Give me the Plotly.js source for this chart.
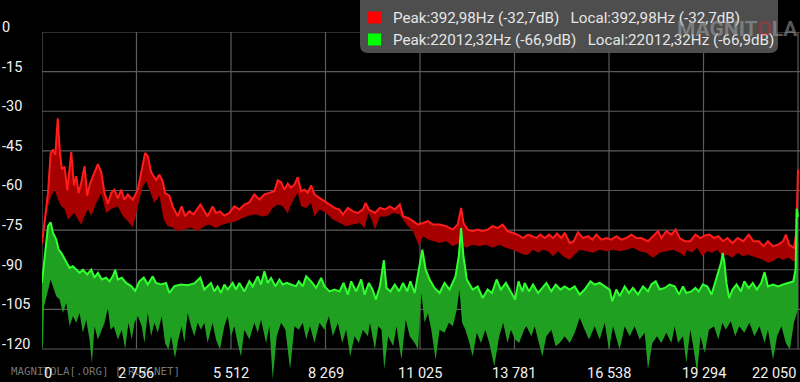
<!DOCTYPE html>
<html><head><meta charset="utf-8">
<script src="https://cdn.plot.ly/plotly-3.0.1.min.js"></script>
<style>html,body{margin:0;padding:0;background:#000;overflow:hidden}#chart{width:800px;height:382px}</style>
</head><body><div id="chart"></div>
<script>
// ---- data (Hz, dB) ----
const redTopHz = [0,175,252,320,388,460,524,582,660,737,854,931,999,1067,1145,1242,1319,1387,1484,1630,1727,1824,1921,2018,2115,2212,2309,2406,2503,2648,2794,2910,3007,3085,3182,3327,3424,3521,3589,3715,3812,3958,4074,4171,4297,4423,4617,4734,4830,4976,5074,5191,5317,5463,5609,5756,5902,6048,6194,6340,6486,6632,6778,6876,6973,7070,7168,7265,7363,7460,7557,7655,7752,7850,7947,8093,8239,8385,8531,8678,8775,8921,9067,9213,9359,9437,9535,9710,9855,10000,10145,10290,10435,10532,10677,10822,10967,11112,11257,11402,11596,11789,11982,12127,12224,12292,12417,12562,12707,12853,12998,13143,13288,13433,13578,13723,13916,14030,14176,14302,14419,14536,14662,14788,14905,15022,15148,15245,15391,15508,15634,15780,15926,16052,16169,16314,16460,16606,16752,16898,17043,17189,17335,17481,17675,17821,17967,18064,18210,18356,18482,18599,18744,18910,19058,19205,19333,19471,19599,19727,19865,19993,20140,20288,20455,20613,20750,20908,21045,21173,21321,21468,21616,21695,21793,21931,22000,22050];
const redTopDb = [-80,-61,-46,-44.5,-46.5,-32.7,-46,-52,-51,-60,-45.5,-58,-54.6,-61,-57,-50.8,-62,-58,-54.6,-50,-53,-61,-65,-61,-59.7,-63,-59.7,-63.5,-61.5,-63.5,-59.7,-52,-45.8,-47,-53,-56,-54,-56.5,-61,-62,-66,-69.7,-66,-69.7,-67.8,-69,-65.3,-67.8,-69.8,-66,-68.5,-67.9,-69.5,-68.5,-66,-67.2,-65.3,-64.5,-61.5,-63.4,-61.5,-60.9,-60.3,-56.1,-56.9,-59.7,-57.4,-59,-57.8,-55,-60.3,-59.7,-60.9,-58.1,-61.5,-62.8,-64.1,-65.3,-66.6,-67.2,-69.1,-66.6,-67.9,-68.5,-67.2,-64.7,-67.2,-68.5,-66.6,-67.2,-66,-67.2,-65.3,-69.8,-70.4,-71.6,-72.9,-72.3,-71.6,-72.9,-72.9,-73.5,-74.8,-72.9,-66.6,-72.3,-74.8,-75.4,-74.8,-75.4,-74.8,-73.5,-74.2,-72.9,-75.4,-76,-77,-78,-76.7,-77.3,-78,-76.7,-78,-76.7,-78,-76.3,-78,-76,-79.9,-79.2,-75.8,-78,-77.3,-78.6,-76.7,-78.6,-78,-78.6,-77.3,-78.6,-78,-76.7,-78,-78,-79.2,-77.3,-75.4,-78,-75.4,-76.7,-74.8,-78,-79.2,-79.2,-76.7,-78,-77,-76.7,-78,-77.3,-79.2,-78,-79.9,-78,-79.2,-76.7,-79.2,-79.2,-81.1,-79.2,-81.1,-80.5,-79.2,-76.7,-80.5,-81.7,-76,-52];
const redLowHz = [0,175,272,369,466,563,660,757,854,951,1048,1145,1242,1339,1436,1581,1727,1872,2018,2212,2357,2503,2648,2794,2939,3036,3133,3279,3424,3550,3667,3812,3958,4152,4346,4540,4734,4879,5074,5269,5463,5658,5853,6048,6243,6437,6583,6730,6876,7022,7168,7265,7363,7460,7557,7704,7850,7947,8093,8288,8483,8678,8872,9067,9262,9408,9517,9613,9710,9855,10048,10242,10435,10629,10822,10996,11112,11257,11402,11596,11789,11982,12176,12369,12562,12756,12949,13143,13336,13530,13723,13916,14061,14176,14322,14468,14613,14759,14905,15051,15197,15391,15537,15683,15877,16071,16266,16460,16655,16849,17043,17238,17432,17627,17821,18015,18210,18404,18599,18744,18812,18959,19107,19255,19402,19550,19697,19845,19993,20140,20288,20435,20583,20731,20878,21026,21173,21321,21468,21616,21764,21912,22010,22050];
const redLowDb = [-80,-66,-62,-59.7,-63.5,-66,-67,-71,-69.7,-68.5,-71,-73,-69.7,-67,-69.7,-64.7,-61,-68.5,-67,-66,-69.7,-71.6,-74,-66,-58.4,-56.5,-59.7,-64.7,-62,-71,-73.5,-74,-75.4,-74.8,-74,-75.4,-73.5,-72.9,-74.2,-72.9,-72.3,-71.6,-70.4,-69.5,-69.1,-69.8,-69.5,-66.6,-65.3,-66,-68.7,-65.3,-62.8,-60.9,-66,-66.6,-64.7,-69.8,-67.2,-68.5,-71,-72.3,-73.5,-72.9,-72.3,-74.2,-68.5,-71,-74.8,-69.8,-69.8,-68.5,-69.1,-72.9,-75.4,-81.1,-77.3,-78.6,-79.2,-79.9,-79.2,-81.1,-79.9,-81.7,-80.5,-81.1,-80.5,-81.7,-80.5,-81.7,-82.4,-83.6,-84.3,-84.3,-82.4,-83.6,-82.4,-83,-84.9,-83,-84.9,-86.2,-84.3,-82.4,-83,-83.6,-82.4,-83,-82.4,-83,-82.4,-81.7,-83,-83.6,-85.5,-83.6,-83,-82.4,-83.6,-84.9,-82.4,-83.6,-81.7,-84.9,-83,-83.6,-82.4,-84.9,-84.3,-85.5,-83.6,-84.9,-84.3,-84.9,-85.5,-86.2,-87.4,-86.8,-85.5,-86.2,-85.5,-86.8,-86.8,-70];
const greenTopHz = [0,78,175,252,320,417,485,563,640,708,805,902,999,1096,1193,1319,1436,1533,1630,1746,1872,1969,2066,2134,2212,2328,2454,2600,2716,2842,2968,3085,3230,3327,3473,3618,3715,3861,4055,4249,4443,4617,4733,4830,4928,5025,5122,5220,5317,5415,5561,5658,5756,5902,6048,6145,6291,6389,6486,6583,6681,6807,6924,7022,7139,7265,7411,7489,7606,7704,7850,7996,8142,8239,8385,8531,8678,8794,8921,9018,9164,9311,9408,9535,9642,9739,9855,9971,10048,10164,10290,10416,10532,10648,10745,10870,10996,11093,11189,11305,11450,11596,11741,11886,12060,12156,12224,12292,12389,12562,12707,12853,12998,13123,13259,13385,13530,13675,13800,13897,14013,14079,14205,14322,14468,14594,14711,14857,14983,15119,15245,15391,15537,15683,15828,15994,16120,16266,16412,16557,16635,16752,16849,16995,17121,17238,17384,17529,17675,17772,17899,18015,18161,18307,18453,18579,18696,18793,18940,19058,19156,19274,19402,19530,19629,19727,19806,19855,19904,19963,20042,20140,20258,20386,20485,20613,20731,20849,20976,21075,21173,21321,21468,21616,21764,21912,21980,22012,22050];
const greenTopDb = [-95,-85,-73.5,-72,-76,-78.6,-82.4,-83.6,-85.5,-86.8,-89.3,-88.7,-90,-91.2,-90,-91.8,-90,-93,-91.2,-93.7,-93,-94.4,-92.5,-90,-93.7,-93,-95,-96.2,-98,-94.4,-93,-95.6,-92.5,-95,-95.6,-95,-98.8,-96.2,-95.6,-95.9,-95.2,-93,-97.5,-96.3,-95,-98.2,-96.3,-98.8,-95.6,-97.5,-95,-97.5,-95,-98.2,-94.4,-96.3,-92.5,-95.6,-90.6,-95,-93.1,-96.3,-93.7,-95.6,-95,-95.6,-96.3,-94.4,-96.3,-92.5,-94.4,-96.9,-93.1,-96.3,-98.2,-97.5,-98.2,-95,-99.4,-94.4,-98.2,-93.7,-99.4,-95,-97.5,-101.3,-96.3,-86.4,-96.9,-98.2,-95.6,-98.2,-95,-98.2,-94.4,-98.8,-89.9,-82.4,-89.9,-93.7,-96.9,-98.8,-95,-97.5,-92.5,-84.9,-74.2,-84.9,-93.7,-97.5,-96.3,-100.7,-97.5,-98.8,-93.7,-97.5,-95,-98.2,-101.3,-94.4,-98.2,-95,-98.2,-95.6,-98.8,-96.9,-95,-98.2,-95.6,-97.5,-96.3,-97.5,-96.3,-99.4,-97.5,-94.4,-95.6,-95,-96.3,-97.5,-101.9,-97.5,-100,-96.3,-98.8,-96.9,-99.4,-96.3,-98.2,-95.6,-94.4,-97.5,-96.9,-95.6,-96.3,-99.4,-96.3,-98.8,-98.2,-96.9,-98.2,-95.6,-96.3,-99.4,-95,-91.2,-87.4,-83.6,-87.4,-95,-100.7,-97.5,-95.6,-98.2,-94.4,-96.9,-95,-97.5,-95,-90.9,-96.3,-95.6,-96.3,-95.6,-95,-94.4,-89.9,-66.9,-70];
const greenLowHz = [0,30,58,252,320,417,514,611,708,805,902,999,1096,1193,1290,1387,1455,1533,1630,1746,1824,1921,1998,2095,2212,2328,2425,2522,2619,2697,2794,2910,2988,3085,3182,3279,3376,3492,3589,3686,3764,3880,3977,4074,4152,4249,4346,4443,4540,4635,4733,4830,4976,5074,5191,5317,5415,5512,5609,5707,5804,5902,6048,6194,6291,6389,6535,6632,6730,6846,6973,7100,7236,7363,7489,7606,7704,7820,7947,8093,8239,8366,8483,8629,8755,8872,8989,9116,9242,9359,9505,9565,9710,9807,9903,9981,10097,10242,10339,10483,10609,10725,10870,10967,11064,11160,11257,11354,11480,11596,11741,11866,11982,12098,12176,12253,12350,12466,12562,12679,12804,12930,13046,13191,13336,13452,13578,13675,13800,13916,14061,14128,14273,14370,14497,14594,14711,14857,14983,15099,15245,15391,15537,15683,15828,15954,16120,16266,16412,16538,16655,16849,16995,17141,17286,17432,17578,17675,17801,17938,18064,18210,18356,18453,18550,18696,18793,18910,19009,19107,19205,19333,19451,19599,19727,19845,19943,20091,20219,20337,20485,20632,20780,20927,21075,21173,21321,21439,21567,21695,21813,21931,22050];
const greenLowDb = [-120,-118,-104,-93.7,-96.3,-100,-101.3,-106.4,-102.6,-111.4,-107.6,-110.1,-106.4,-113.9,-108.9,-116.4,-125.3,-111.4,-116.4,-112.7,-110.1,-104.5,-112.7,-111.4,-116.4,-112.7,-120,-110.1,-116.4,-110.1,-107.6,-111.4,-117.7,-106.4,-115.2,-110.1,-113.9,-107.6,-117.7,-120.2,-115.2,-123.4,-116.4,-111.4,-117.7,-106.4,-111.4,-115.2,-110.1,-112.7,-110.1,-117.7,-110.1,-116.4,-120.2,-111.4,-107.6,-115.2,-111.4,-117.7,-122.8,-112.7,-116.4,-110.1,-113.9,-108.9,-117.7,-111.4,-131.6,-115.2,-110.1,-112.7,-127.8,-111.4,-112.7,-110.1,-116.4,-111.4,-117.7,-110.1,-112.7,-107.6,-115.2,-110.1,-117.7,-112.7,-122.8,-115.2,-117.7,-112.7,-115.2,-110.1,-120.2,-111.4,-112.7,-127.8,-115.2,-119,-111.4,-124.1,-108.9,-115.2,-117.7,-120.2,-98.8,-110.1,-106.4,-112.7,-124.1,-112.7,-113.9,-110.1,-111.4,-105.1,-97.5,-110.1,-112.7,-117.7,-122.8,-113.9,-117.7,-112.7,-117.7,-126.5,-115.2,-110.1,-117.7,-112.7,-116.4,-117.7,-112.7,-111.4,-115.2,-111.4,-117.7,-122.8,-115.2,-112.7,-119,-117.7,-115.2,-117.7,-113.9,-108.2,-112.7,-116.4,-111.4,-116.4,-110.1,-120.2,-111.4,-120.2,-111.4,-115.2,-111.4,-116.4,-113.9,-127.8,-117.7,-115.2,-117.7,-113.9,-117.7,-111.4,-117.7,-115.2,-125.3,-112.7,-120.2,-129,-115.2,-121.5,-112.7,-111.4,-116.4,-110.1,-112.7,-109.5,-115.2,-111.4,-113.9,-110.1,-115.2,-111.4,-117.7,-112.7,-124.1,-115.2,-111.4,-117.7,-120.2,-110.1,-105];

const xTickVals = [0,2756,5512,8269,11025,13781,16538,19294,22050];
const xTickText = ['0','2 756','5 512','8 269','11 025','13 781','16 538','19 294','22 050'];
const yTickVals = [0,-15,-30,-45,-60,-75,-90,-105,-120];
const yTickText = ['0','-15','-30','-45','-60','-75','-90','-105','-120'];
const legendLines = ['Peak:392,98Hz (-32,7dB)   Local:392,98Hz (-32,7dB)',
                     'Peak:22012,32Hz (-66,9dB)   Local:22012,32Hz (-66,9dB)'];
const legendColors = ['#ff0000', '#00ff00'];
const watermark = 'MAGNITOLA[.ORG] [.RU/.NET]';

// ---- page geometry helpers (pixels -> paper) ----
const W = 800, H = 382, ML = 42, MT = 32;
const PW = W - ML, PH = H - MT;
const px = v => (v - ML) / PW;
const py = v => (H - v) / PH;

const gridColor = '#5c5c5c';
const shapes = [];
xTickVals.forEach(v => shapes.push({type:'line', xref:'x', yref:'y', x0:v, x1:v, y0:0, y1:-120,
  line:{color:gridColor, width:1.2}, layer:'below'}));
yTickVals.forEach(v => shapes.push({type:'line', xref:'paper', yref:'y', x0:0, x1:1, y0:v, y1:v,
  line:{color:gridColor, width:1.2}, layer:'below'}));

// legend box (rounded bottom corners)
const bx0 = px(360), bx1 = px(778), byT = py(-10), byB = py(53), rx = 8/PW, ry = 8/PH;
shapes.push({type:'path', xref:'paper', yref:'paper', layer:'above',
  path:`M${bx0},${byT} L${bx0},${byB+ry} Q${bx0},${byB} ${bx0+rx},${byB} L${bx1-rx},${byB} Q${bx1},${byB} ${bx1},${byB+ry} L${bx1},${byT} Z`,
  fillcolor:'#4e4e4e', line:{width:0}});
const rowY = [17.5, 39.5];
legendColors.forEach((c, i) => shapes.push({type:'rect', xref:'paper', yref:'paper', layer:'above',
  x0:px(368), x1:px(381), y0:py(rowY[i]+6), y1:py(rowY[i]-6), fillcolor:c, line:{width:0}}));

const annotations = [];
annotations.push({xref:'paper', yref:'paper', x:px(9), y:py(371), xanchor:'left', yanchor:'middle',
  text:watermark, showarrow:false, font:{family:'DejaVu Sans Mono, monospace', size:10.8, color:'rgba(140,140,140,0.85)'}});
yTickVals.forEach((v, i) => annotations.push({xref:'paper', yref:'y', x:px(0), y:v, yshift:4.5,
  xanchor:'left', yanchor:'middle', text:yTickText[i], showarrow:false,
  font:{family:'Roboto, sans-serif', size:14.5, color:'#f2f2f2'}}));
xTickVals.forEach((v, i) => annotations.push({xref:'x', yref:'paper', x:v, y:py(373),
  xanchor: i === 0 ? 'left' : (i === xTickVals.length - 1 ? 'right' : 'center'), yanchor:'middle',
  text:xTickText[i], showarrow:false, font:{family:'Roboto, sans-serif', size:14.5, color:'#f2f2f2'}}));
legendLines.forEach((t, i) => annotations.push({xref:'paper', yref:'paper', x:px(391), y:py(rowY[i]),
  xanchor:'left', yanchor:'middle', text:t.replace(/ {2,}/g, m => '\u00a0'.repeat(m.length)), showarrow:false,
  font:{family:'Roboto, sans-serif', size:15.2, color:'#e6e6e6'}}));
annotations.push({xref:'paper', yref:'paper', x:px(737), y:py(29), xanchor:'center', yanchor:'middle',
  text:'<b>MAGNIT<span style="color:rgba(215,40,40,0.75)">O</span>LA</b>', showarrow:false,
  font:{family:'Liberation Sans Narrow, Arial Narrow, Roboto, sans-serif', size:21, color:'rgba(165,165,165,0.55)'}});

const traces = [
  {x:redLowHz, y:redLowDb, type:'scatter', mode:'lines', line:{width:0, color:'rgba(0,0,0,0)'}, hoverinfo:'skip', showlegend:false},
  {x:redTopHz, y:redTopDb, type:'scatter', mode:'lines', fill:'tonexty', fillcolor:'#a60000',
   line:{width:2, color:'#ff1c1c'}, hoverinfo:'skip', showlegend:false},
  {x:greenLowHz, y:greenLowDb, type:'scatter', mode:'lines', line:{width:0, color:'rgba(0,0,0,0)'}, hoverinfo:'skip', showlegend:false},
  {x:greenTopHz, y:greenTopDb, type:'scatter', mode:'lines', fill:'tonexty', fillcolor:'#20a020',
   line:{width:2, color:'#30ff30'}, hoverinfo:'skip', showlegend:false}
];

const layout = {
  width:W, height:H, margin:{l:ML, r:0, t:MT, b:0, pad:0},
  paper_bgcolor:'#000', plot_bgcolor:'#000', showlegend:false,
  xaxis:{range:[0, 22050*PW/756], showgrid:false, zeroline:false, showticklabels:false, ticks:'', showline:false, fixedrange:true},
  yaxis:{range:[-132.5, 0], showgrid:false, zeroline:false, showticklabels:false, ticks:'', showline:false, fixedrange:true},
  shapes:shapes, annotations:annotations, font:{family:'Roboto, sans-serif'}
};
Plotly.newPlot('chart', traces, layout, {staticPlot:true, displayModeBar:false});
</script></body></html>
